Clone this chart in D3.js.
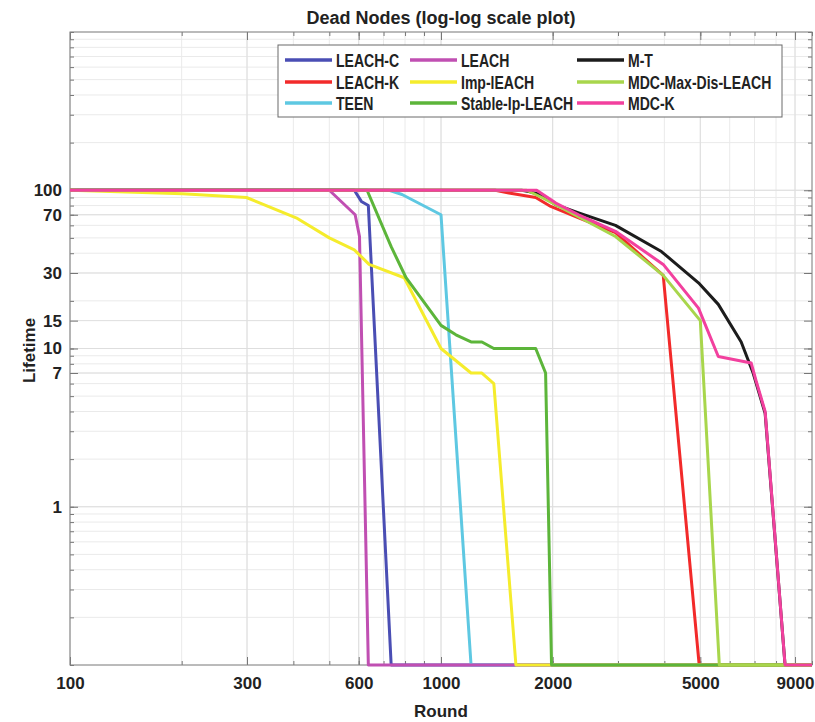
<!DOCTYPE html>
<html><head><meta charset="utf-8">
<script src="https://cdn.jsdelivr.net/npm/d3@7"></script>
<style>body{margin:0;background:#fff} text{font-family:"Liberation Sans",Arial,sans-serif;fill:#222}</style>
</head><body><svg id="c" width="815" height="722"></svg>
<script>
// ---- data: [round, lifetime] pairs ----
const leachC   = [[100,100],[584,100],[610,85],[637,80],[734,0.1],[10000,0.1]];
const teen     = [[100,100],[725,100],[785,94],[1000,70],[1205,0.1],[10000,0.1]];
const leachK   = [[100,100],[1400,100],[1524,96],[1800,90],[1976,79],[2350,67],[2953,54],[3404,40],[3972,29],[4965,0.1],[10000,0.1]];
const mT       = [[100,100],[1650,100],[1725,98],[1858,94],[2039,81],[2350,72],[2953,60],[3928,41],[4943,26],[5590,19],[6444,11],[6939,7],[7476,3.9],[8460,0.1],[10000,0.1]];
const leach    = [[100,100],[500,100],[587,70],[603,51],[637,0.1],[10000,0.1]];
const impLeach = [[100,100],[201,95],[299,90],[407,67],[500,50],[584,42],[640,34],[796,28],[1000,10],[1205,7],[1289,7],[1388,6],[1592,0.1],[10000,0.1]];
const stable   = [[100,100],[632,100],[734,44],[805,28],[1000,14],[1097,12.2],[1205,11],[1289,11],[1388,10],[1800,10],[1914,7],[1986,0.1],[10000,0.1]];
const mdcMax   = [[100,100],[1700,100],[1871,90],[2168,75],[2953,51],[3972,29],[5000,15],[5626,0.1],[10000,0.1]];
const mdcK     = [[100,100],[1811,100],[2039,83],[2350,70],[2953,55],[3972,34],[4943,18],[5590,8.9],[6855,8.1],[7060,6.3],[7476,4.0],[8460,0.1],[10000,0.1]];

const legendOrder = ["LEACH-C","LEACH","M-T","LEACH-K","Imp-lEACH","MDC-Max-Dis-LEACH","TEEN","Stable-Ip-LEACH","MDC-K"];
const drawOrder   = ["LEACH-C","TEEN","LEACH-K","M-T","LEACH","Imp-lEACH","Stable-Ip-LEACH","MDC-Max-Dis-LEACH","MDC-K"];
const seriesData  = {"LEACH-C":leachC,"TEEN":teen,"LEACH-K":leachK,"M-T":mT,"LEACH":leach,"Imp-lEACH":impLeach,"Stable-Ip-LEACH":stable,"MDC-Max-Dis-LEACH":mdcMax,"MDC-K":mdcK};
const colors      = {"LEACH-C":"#4a4eb4","LEACH":"#c04fb2","M-T":"#1c1c1c","LEACH-K":"#f22a2a","Imp-lEACH":"#f5ec2c","MDC-Max-Dis-LEACH":"#a8d64c","TEEN":"#5ec8e2","Stable-Ip-LEACH":"#5cb53a","MDC-K":"#f2409e"};

const xTickLabels = [100,300,600,1000,2000,5000,9000];
const yTickLabels = [1,7,10,15,30,70,100];
const xDomain = [100,10000];
const yDomain = [0.1,1000];

// ---- layout ----
const L=70, R=812, T=32, B=665;
const svg = d3.select("#c");
const x = d3.scaleLog().domain(xDomain).range([L,R]);
const y = d3.scaleLog().domain(yDomain).range([B,T]);

const xMinor=[], yMinor=[];
[100,1000].forEach(d=>{for(let k=1;k<=9;k++) xMinor.push(d*k);}); xMinor.push(10000);
[0.1,1,10,100].forEach(d=>{for(let k=1;k<=9;k++) yMinor.push(d*k);}); yMinor.push(1000);

// grid
const g = svg.append("g");
g.selectAll(".gx").data(xMinor).join("line").attr("x1",d=>x(d)).attr("x2",d=>x(d)).attr("y1",T).attr("y2",B).attr("stroke","#eaeaea").attr("stroke-width",1);
g.selectAll(".gy").data(yMinor).join("line").attr("y1",d=>y(d)).attr("y2",d=>y(d)).attr("x1",L).attr("x2",R).attr("stroke","#eaeaea").attr("stroke-width",1);
g.selectAll(".gxm").data(xTickLabels).join("line").attr("x1",d=>x(d)).attr("x2",d=>x(d)).attr("y1",T).attr("y2",B).attr("stroke","#dedede").attr("stroke-width",1);
g.selectAll(".gym").data(yTickLabels).join("line").attr("y1",d=>y(d)).attr("y2",d=>y(d)).attr("x1",L).attr("x2",R).attr("stroke","#dedede").attr("stroke-width",1);

// axes
function styleAxis(sel){ sel.select(".domain").remove(); sel.selectAll(".tick line").attr("stroke","#777"); sel.selectAll("text").style("font-size","17px").style("font-weight","bold").attr("fill","#262626"); }
svg.append("g").attr("transform",`translate(0,${B})`).call(d3.axisBottom(x).tickValues(xMinor).tickSize(-4).tickFormat("")).call(styleAxis);
svg.append("g").attr("transform",`translate(0,${T})`).call(d3.axisTop(x).tickValues(xMinor).tickSize(-4).tickFormat("")).call(styleAxis);
svg.append("g").attr("transform",`translate(${L},0)`).call(d3.axisLeft(y).tickValues(yMinor).tickSize(-4).tickFormat("")).call(styleAxis);
svg.append("g").attr("transform",`translate(${R},0)`).call(d3.axisRight(y).tickValues(yMinor).tickSize(-4).tickFormat("")).call(styleAxis);
svg.append("g").attr("transform",`translate(0,${B})`).call(d3.axisBottom(x).tickValues(xTickLabels).tickSize(-8).tickPadding(12).tickFormat(d3.format("d"))).call(styleAxis);
svg.append("g").attr("transform",`translate(0,${T})`).call(d3.axisTop(x).tickValues(xTickLabels).tickSize(-8).tickFormat("")).call(styleAxis);
svg.append("g").attr("transform",`translate(${L},0)`).call(d3.axisLeft(y).tickValues(yTickLabels).tickSize(-8).tickPadding(8).tickFormat(d3.format("d"))).call(styleAxis);
svg.append("g").attr("transform",`translate(${R},0)`).call(d3.axisRight(y).tickValues(yTickLabels).tickSize(-8).tickFormat("")).call(styleAxis);

svg.append("rect").attr("x",L).attr("y",T).attr("width",R-L).attr("height",B-T).attr("fill","none").attr("stroke","#808080").attr("stroke-width",1);

// lines
const line = d3.line().x(d=>x(d[0])).y(d=>y(d[1]));
svg.append("g").selectAll("path").data(drawOrder).join("path")
  .attr("d",k=>line(seriesData[k])).attr("fill","none").attr("stroke",k=>colors[k])
  .attr("stroke-width",3).attr("stroke-linejoin","round");

// legend
const lg = svg.append("g");
lg.append("rect").attr("x",278).attr("y",45).attr("width",504).attr("height",72).attr("fill","#fff").attr("stroke","#6a6a6a").attr("stroke-width",1);
const colX=[285,410,577], rowY=[60,82,103];
legendOrder.forEach((k,i)=>{
  const cx=colX[i%3], cy=rowY[Math.floor(i/3)];
  lg.append("line").attr("x1",cx).attr("x2",cx+47).attr("y1",cy).attr("y2",cy).attr("stroke",colors[k]).attr("stroke-width",3.5);
  lg.append("g").attr("transform",`translate(${cx+51},${cy+6.5}) scale(0.78,1)`)
    .append("text").text(k).style("font-size","18px").style("font-weight","bold");
});

// titles
svg.append("text").attr("x",(L+R)/2).attr("y",24).attr("text-anchor","middle").style("font-size","18px").style("font-weight","bold").text("Dead Nodes (log-log scale plot)");
svg.append("text").attr("x",(L+R)/2).attr("y",717).attr("text-anchor","middle").style("font-size","17px").style("font-weight","bold").text("Round");
svg.append("text").attr("transform",`translate(35,${(T+B)/2+2}) rotate(-90)`).attr("text-anchor","middle").style("font-size","17px").style("font-weight","bold").text("Lifetime");
</script></body></html>
